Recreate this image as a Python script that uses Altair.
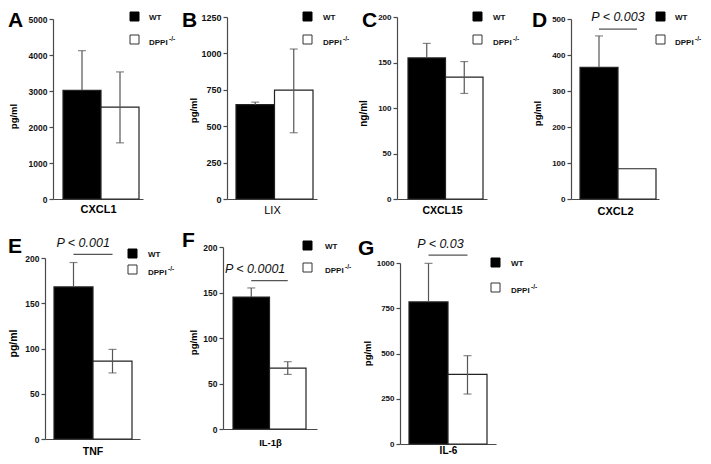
import altair as alt
import pandas as pd

# ---------------- data ----------------
panel_letters = ["A", "B", "C", "D", "E", "F", "G"]
analytes = ["CXCL1", "LIX", "CXCL15", "CXCL2", "TNF", "IL-1β", "IL-6"]
units = ["pg/ml", "pg/ml", "ng/ml", "pg/ml", "pg/ml", "pg/ml", "pg/ml"]
groups = ["WT", "DPPI"]
wt_mean = [3020, 648, 155, 366, 168, 145, 785]
wt_upper = [4120, 665, 171, 453, 195, 155, 998]
ko_mean = [2550, 748, 134, 84, 86, 67, 385]
ko_low = [1560, 455, 116, None, 73, 60, 276]
ko_high = [3530, 1030, 151, None, 99, 74, 488]
y_max = [5000, 1250, 200, 500, 200, 200, 1000]
y_step = [1000, 250, 50, 100, 50, 50, 250]
p_text = ["", "", "", "P < 0.003", "P < 0.001", "P < 0.0001", "P < 0.03"]
p_text_level = [None, None, None, 505, 217, 176, 1105]
p_line_level = [None, None, None, 472, 204, 163, 1044]
legend_labels = ["WT", "DPPI"]
legend_sup = "-/-"

# ---------------- layout (page pixels) ----------------
OFF = 8
W_CHART, H_CHART = 695, 448
axis_x = [53, 227, 397, 571, 45, 223, 400]
axis_end = [143, 317, 487, 659, 140, 317, 496]
y_top = [19, 17, 17, 19, 258, 247, 263]
y_zero = [199, 199, 199, 199, 439, 429, 444]
bar_left = [63, 236, 408, 580, 54, 233, 409]
bar_right = [139, 313, 483, 656, 132, 306, 487]
ytitle_x = [13, 193, 363, 537, 13, 193, 367]
ytitle_y = [116, 110, 113, 113, 343, 342, 353]
ytitle_size = [9.5, 9.5, 10, 9.5, 10.5, 9.5, 9.5]
tick_size = [8.5, 9, 8, 8, 8.5, 8.5, 8]
cat_size = [11, 11, 10.5, 11, 10.5, 9.5, 10]
cat_weight = ["bold", "normal", "bold", "bold", "bold", "bold", "bold"]
cat_dy = [10, 11, 11, 12, 12, 13, 6.5]
p_dx = [0, 0, 0, -5, -6.5, -8.5, -3]
letter_x = [8, 182, 362, 532, 8, 182, 358]
letter_base = [27, 27, 27, 27, 253, 247, 255]
leg_x = [130, 303, 473, 656, 128, 303, 491]
leg_y = [12, 12, 12, 12, 249, 241, 258]
leg_gap = [23, 23, 23, 23, 16, 22, 25]
leg_text_dx = [19, 20, 20, 19, 20, 22, 20]

FONT = "Liberation Sans"
AXIS_COLOR = "#4a4a4a"
ERR_COLOR = "#555555"


def panel(i):
    ax = axis_x[i] - OFF
    ae = axis_end[i] - OFF
    yt = y_top[i] - OFF
    y0 = y_zero[i] - OFF
    width = ae - ax
    step = (bar_right[i] - bar_left[i]) / 2
    slack = width - 2 * step
    po = slack / (2 * step)
    al = (bar_left[i] - axis_x[i]) / slack

    def xs():
        return alt.Scale(domain=groups, range=[ax, ae], paddingInner=0,
                         paddingOuter=po, align=al)

    def ys():
        return alt.Scale(domain=[0, y_max[i]], range=[y0, yt], nice=False, zero=True)

    x_axis = alt.Axis(orient="bottom", offset=y0 - H_CHART, labels=False,
                      ticks=False, grid=False, title=analytes[i], titleY=cat_dy[i],
                      titleBaseline="middle", titleFontSize=cat_size[i],
                      titleFontWeight=cat_weight[i])
    y_axis = alt.Axis(orient="left", offset=-ax,
                      values=list(range(0, y_max[i] + 1, y_step[i])),
                      format="d", grid=False, title=units[i],
                      titleX=ytitle_x[i] - axis_x[i], titleY=ytitle_y[i] - OFF,
                      titleAngle=270, titleAlign="center",
                      titleBaseline="middle", titleFontSize=ytitle_size[i],
                      labelFontSize=tick_size[i])

    bars_df = pd.DataFrame({"group": groups, "value": [wt_mean[i], ko_mean[i]]})
    bars = alt.Chart(bars_df).mark_bar(stroke="#222222", strokeWidth=1.2).encode(
        x=alt.X("group:N", scale=xs(), axis=x_axis),
        y=alt.Y("value:Q", scale=ys(), axis=y_axis),
        fill=alt.Fill("group:N", scale=alt.Scale(domain=groups, range=["#000000", "#ffffff"]),
                      legend=None),
    )
    layers = [bars]

    err_rows = [{"group": "WT", "lo": wt_mean[i], "hi": wt_upper[i]}]
    cap_rows = [{"group": "WT", "v": wt_upper[i]}]
    if ko_low[i] is not None:
        err_rows.append({"group": "DPPI", "lo": ko_low[i], "hi": ko_high[i]})
        cap_rows += [{"group": "DPPI", "v": ko_low[i]}, {"group": "DPPI", "v": ko_high[i]}]
    err = alt.Chart(pd.DataFrame(err_rows)).mark_rule(color=ERR_COLOR, strokeWidth=1.2).encode(
        x=alt.X("group:N", scale=xs(), axis=None),
        y=alt.Y("lo:Q", scale=ys(), axis=None),
        y2="hi:Q",
    )
    caps = alt.Chart(pd.DataFrame(cap_rows)).mark_tick(
        orient="horizontal", size=8, thickness=1.2, color=ERR_COLOR).encode(
        x=alt.X("group:N", scale=xs(), axis=None),
        y=alt.Y("v:Q", scale=ys(), axis=None),
    )
    layers += [err, caps]

    if p_text[i]:
        one = pd.DataFrame({"k": [0]})
        pl = alt.Chart(one).mark_rule(color=ERR_COLOR, strokeWidth=1.2).encode(
            x=alt.XDatum("WT", type="nominal", scale=xs(), axis=None),
            x2=alt.X2Datum("DPPI"),
            y=alt.YDatum(p_line_level[i], type="quantitative", scale=ys(), axis=None),
        )
        pt = alt.Chart(one).mark_text(text=p_text[i], font=FONT, fontSize=12.5,
                                      fontStyle="italic", color="#111111",
                                      baseline="middle", align="center",
                                      dx=step / 2 + p_dx[i]).encode(
            x=alt.XDatum("WT", type="nominal", scale=xs(), axis=None),
            y=alt.YDatum(p_text_level[i], type="quantitative", scale=ys(), axis=None),
        )
        layers += [pl, pt]
    return layers


panel_layers = []
for i in range(7):
    panel_layers += panel(i)

# panel letters
letters_df = pd.DataFrame({
    "t": panel_letters,
    "px": [v - OFF for v in letter_x],
    "py": [v - OFF for v in letter_base],
})
letters = alt.Chart(letters_df).mark_text(
    font=FONT, fontSize=21, fontWeight="bold", align="left",
    baseline="alphabetic", color="#000000").encode(
    x=alt.X("px:Q", scale=None, axis=None),
    y=alt.Y("py:Q", scale=None, axis=None),
    text="t:N",
)

# legends
sq = 9
leg_black = pd.DataFrame({
    "px": [v - OFF + sq / 2 for v in leg_x],
    "py": [v - OFF + sq / 2 for v in leg_y],
})
leg_white = pd.DataFrame({
    "px": [v - OFF + sq / 2 for v in leg_x],
    "py": [v - OFF + sq / 2 + g for v, g in zip(leg_y, leg_gap)],
})
sq_black = alt.Chart(leg_black).mark_square(size=sq * sq, fill="#000000", stroke="#000000",
                                            strokeWidth=1, opacity=1).encode(
    x=alt.X("px:Q", scale=None, axis=None), y=alt.Y("py:Q", scale=None, axis=None))
sq_white = alt.Chart(leg_white).mark_square(size=sq * sq, fill="#ffffff", stroke="#333333",
                                            strokeWidth=1, opacity=1).encode(
    x=alt.X("px:Q", scale=None, axis=None), y=alt.Y("py:Q", scale=None, axis=None))

wt_txt_df = pd.DataFrame({
    "t": [legend_labels[0]] * 7,
    "px": [v - OFF + d for v, d in zip(leg_x, leg_text_dx)],
    "py": [v - OFF + sq / 2 + 1 for v in leg_y],
})
ko_txt_df = pd.DataFrame({
    "t": [legend_labels[1]] * 7,
    "px": [v - OFF + d for v, d in zip(leg_x, leg_text_dx)],
    "py": [v - OFF + sq / 2 + g + 3 for v, g in zip(leg_y, leg_gap)],
})
sup_df = pd.DataFrame({
    "t": [legend_sup] * 7,
    "px": [v - OFF + d + 20 for v, d in zip(leg_x, leg_text_dx)],
    "py": [v - OFF + sq / 2 + g - 0.5 for v, g in zip(leg_y, leg_gap)],
})


def txt(df, size):
    return alt.Chart(df).mark_text(font=FONT, fontSize=size, fontWeight="bold",
                                   align="left", baseline="middle", color="#111111").encode(
        x=alt.X("px:Q", scale=None, axis=None),
        y=alt.Y("py:Q", scale=None, axis=None),
        text="t:N",
    )


decor = [letters, sq_black, sq_white, txt(wt_txt_df, 8), txt(ko_txt_df, 8), txt(sup_df, 6.5)]

chart = alt.layer(*panel_layers, *decor).resolve_scale(
    x="independent", y="independent"
).resolve_axis(
    x="independent", y="independent"
).properties(
    width=W_CHART, height=H_CHART,
    autosize=alt.AutoSizeParams(type="none"),
    padding=0,
).configure_view(stroke=None).configure_axis(
    labelFont=FONT, labelFontWeight="bold", labelColor="#111111", labelPadding=2,
    tickColor=AXIS_COLOR, tickSize=4, tickWidth=1.2,
    domainColor=AXIS_COLOR, domainWidth=1.2,
    titleFont=FONT, titleFontWeight="bold", titleColor="#000000",
)

chart.save("out.html", embed_options={"renderer": "svg", "actions": False})
